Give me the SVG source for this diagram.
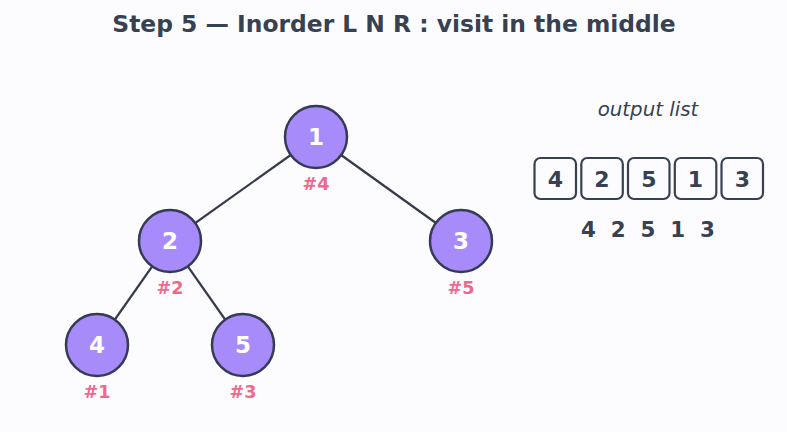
<svg xmlns="http://www.w3.org/2000/svg" width="787" height="432" viewBox="0 0 787 432">
<style>
.bg{fill:#fcfcfe}
.title{font-family:"DejaVu Sans",sans-serif;font-weight:bold;font-size:23.4px;fill:#374151;text-anchor:middle}
.node circle{fill:#a78bfa;stroke:#363b55;stroke-width:2.5}
.node .v{font-family:"DejaVu Sans",sans-serif;font-weight:bold;font-size:23px;fill:#ffffff;text-anchor:middle}
.node .o{font-family:"DejaVu Sans",sans-serif;font-weight:bold;font-size:17.6px;fill:#f2688b;text-anchor:middle}
.edge{stroke:#363b4a;stroke-width:2.2}
.box rect{fill:#fcfcfe;stroke:#374151;stroke-width:2.2}
.box text{font-family:"DejaVu Sans",sans-serif;font-weight:bold;font-size:22px;fill:#374151;text-anchor:middle}
.cap{font-family:"DejaVu Sans",sans-serif;font-style:italic;font-size:19.8px;fill:#374151;text-anchor:middle}
.seq{font-family:"DejaVu Sans",sans-serif;font-weight:bold;font-size:21.4px;fill:#374151;text-anchor:middle}
</style>
<rect class="bg" x="0" y="0" width="787" height="432"/>
<text class="title" x="394" y="32">Step 5 — Inorder L N R : visit in the middle</text>
<g id="connectors">
<line class="edge" x1="316" y1="137" x2="170" y2="241"/>
<line class="edge" x1="316" y1="137" x2="461" y2="241"/>
<line class="edge" x1="170" y1="241" x2="97" y2="345"/>
<line class="edge" x1="170" y1="241" x2="243" y2="345"/>
</g>
<g id="node1" class="node"><circle cx="316" cy="137" r="31"/><text class="v" x="316" y="145">1</text><text class="o" x="316" y="190">#4</text></g>
<g id="node2" class="node"><circle cx="170" cy="241" r="31"/><text class="v" x="170" y="249">2</text><text class="o" x="170" y="294">#2</text></g>
<g id="node3" class="node"><circle cx="461" cy="241" r="31"/><text class="v" x="461" y="249">3</text><text class="o" x="461" y="294">#5</text></g>
<g id="node4" class="node"><circle cx="97" cy="345" r="31"/><text class="v" x="97" y="353">4</text><text class="o" x="97" y="398">#1</text></g>
<g id="node5" class="node"><circle cx="243" cy="345" r="31"/><text class="v" x="243" y="353">5</text><text class="o" x="243" y="398">#3</text></g>
<text class="cap" x="648" y="116">output list</text>
<g id="output">
<g class="box"><rect x="534.5" y="158" width="41.5" height="41" rx="6"/><text x="555.3" y="186.5">4</text></g>
<g class="box"><rect x="581.3" y="158" width="41.5" height="41" rx="6"/><text x="602" y="186.5">2</text></g>
<g class="box"><rect x="628" y="158" width="41.5" height="41" rx="6"/><text x="648.8" y="186.5">5</text></g>
<g class="box"><rect x="674.8" y="158" width="41.5" height="41" rx="6"/><text x="695.5" y="186.5">1</text></g>
<g class="box"><rect x="721.5" y="158" width="41.5" height="41" rx="6"/><text x="742.3" y="186.5">3</text></g>
</g>
<text class="seq" x="648" y="236.5" xml:space="preserve">4  2  5  1  3</text>
</svg>
